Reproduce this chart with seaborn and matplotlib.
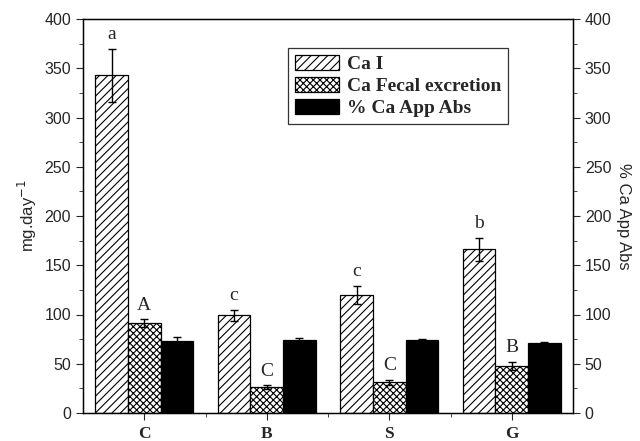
import pandas as pd
import matplotlib.pyplot as plt
import seaborn as sns
from matplotlib.ticker import MultipleLocator, FixedLocator

diets = ["C", "B", "S", "G"]
series = ["Ca I", "Ca Fecal excretion", "% Ca App Abs"]
ca_intake = [343, 99, 120, 166]
ca_intake_err = [27, 6, 9, 12]
ca_fecal = [91, 26, 31, 48]
ca_fecal_err = [4, 2, 3, 4]
ca_abs = [73, 74, 74, 71]
ca_abs_err = [4, 2, 1, 1]
intake_letters = ["a", "c", "c", "b"]
fecal_letters = ["A", "C", "C", "B"]

rows = []
for vals, errs, name in [(ca_intake, ca_intake_err, series[0]),
                         (ca_fecal, ca_fecal_err, series[1]),
                         (ca_abs, ca_abs_err, series[2])]:
    for d, v, e in zip(diets, vals, errs):
        rows.append({"diet": d, "series": name, "value": v, "err": e})
df = pd.DataFrame(rows)

sns.set_style("ticks")
plt.rcParams["font.family"] = ["Liberation Sans", "DejaVu Sans"]
plt.rcParams["hatch.linewidth"] = 0.8

fig = plt.figure(figsize=(6.4, 4.41), dpi=100)
ax = fig.add_axes([83 / 640, 28 / 441, 490 / 640, 394 / 441])

sns.barplot(data=df, x="diet", y="value", hue="series", order=diets, hue_order=series,
            errorbar=None, width=0.8, ax=ax, legend=False)

bar_conts = list(ax.containers)
hatches = ["////", "xxxxx", ""]
faces = ["white", "white", "black"]
for cont, h, fc, name in zip(bar_conts, hatches, faces, series):
    sub = df[df["series"] == name]
    xs = []
    for p in cont.patches:
        p.set_facecolor(fc)
        p.set_edgecolor("black")
        p.set_hatch(h)
        p.set_linewidth(0.9)
        xs.append(p.get_x() + p.get_width() / 2)
    ax.errorbar(xs, sub["value"], yerr=sub["err"], fmt="none", ecolor="black",
                elinewidth=1, capsize=3.2, capthick=1)
    # significance letters above Ca I and fecal bars
    if name == series[0]:
        for x, v, e, t in zip(xs, sub["value"], sub["err"], intake_letters):
            ax.text(x, v + e + 6, t, ha="center", va="bottom", fontsize=14,
                    family="Liberation Serif")
    if name == series[1]:
        for x, v, e, t in zip(xs, sub["value"], sub["err"], fecal_letters):
            ax.text(x, v + e + 6, t, ha="center", va="bottom", fontsize=14,
                    family="Liberation Serif")

ax.set_xlim(-0.5, 3.5)
ax.set_ylim(0, 400)
ax.yaxis.set_major_locator(MultipleLocator(50))
ax.yaxis.set_minor_locator(MultipleLocator(25))
ax.xaxis.set_minor_locator(FixedLocator([0.5, 1.5, 2.5]))
ax.set_xlabel("")
ax.set_ylabel("mg.day$^{-1}$", fontsize=12, labelpad=4)
ax.tick_params(axis="y", which="major", length=5, labelsize=11.5, direction="out")
ax.tick_params(axis="y", which="minor", length=3, direction="out")
ax.tick_params(axis="x", which="major", length=5, direction="out", pad=4)
ax.tick_params(axis="x", which="minor", length=3, direction="out")
for lbl in ax.get_xticklabels():
    lbl.set_family("Liberation Serif")
    lbl.set_fontweight("bold")
    lbl.set_fontsize(12.5)
for s in ax.spines.values():
    s.set_visible(True)
    s.set_linewidth(1)
    s.set_color("black")

ax2 = ax.twinx()
ax2.set_ylim(0, 400)
ax2.yaxis.set_major_locator(MultipleLocator(50))
ax2.yaxis.set_minor_locator(MultipleLocator(25))
ax2.tick_params(axis="y", which="major", length=5, labelsize=11.5, direction="out")
ax2.tick_params(axis="y", which="minor", length=3, direction="out")
ax2.set_ylabel("% Ca App Abs", fontsize=12, rotation=270, labelpad=14)
for s in ax2.spines.values():
    s.set_visible(True)
    s.set_color("black")

leg = ax.legend(bar_conts, series, loc="upper left", bbox_to_anchor=(0.418, 0.926),
                borderaxespad=0, frameon=True, fancybox=False, shadow=False,
                handlelength=2.3, handleheight=0.8, handletextpad=0.4,
                labelspacing=0.2, borderpad=0.35,
                prop={"family": "Liberation Serif", "weight": "bold", "size": 14})
leg.get_frame().set_edgecolor("black")
leg.get_frame().set_linewidth(0.9)

fig.savefig("out.png", dpi=100)
